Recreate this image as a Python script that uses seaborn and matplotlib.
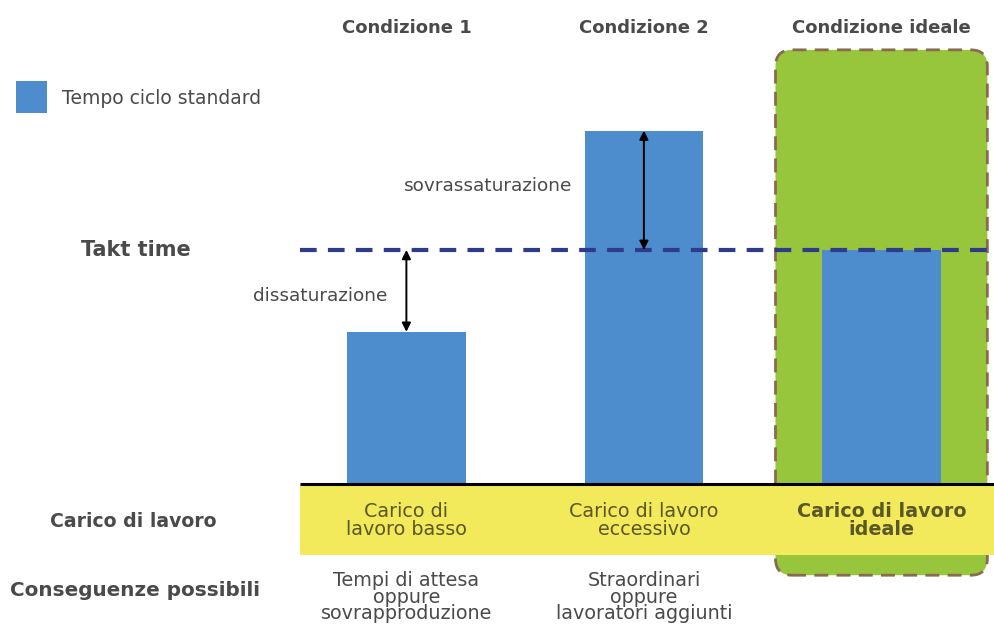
import matplotlib
matplotlib.use("Agg")
import matplotlib.pyplot as plt
import seaborn as sns
import pandas as pd
from matplotlib.patches import Rectangle, FancyBboxPatch
from matplotlib.transforms import blended_transform_factory

# --- data -------------------------------------------------------------
conditions = ["Condizione 1", "Condizione 2", "Condizione ideale"]
cycle_time = [65, 151, 100]          # tempo ciclo standard per condizione
takt_time = 100                      # takt time di riferimento
workload = ["Carico di\nlavoro basso", "Carico di lavoro\neccessivo", "Carico di lavoro\nideale"]
consequences = ["Tempi di attesa\noppure\nsovrapproduzione",
                "Straordinari\noppure\nlavoratori aggiunti", ""]
gap_labels = ["dissaturazione", "sovrassaturazione"]
legend_label = "Tempo ciclo standard"

# --- style ------------------------------------------------------------
BLUE = "#4D8DCD"
GREEN = "#97C53C"
YELLOW = "#F3EA5B"
NAVY = "#2E3A8A"
BROWN = "#8A6A4E"
GREY = "#4A4A4A"
OLIVE = "#5A5826"

sns.set_theme(style="white")
plt.rcParams["font.family"] = ["DejaVu Sans"]

fig = plt.figure(figsize=(9.94, 6.26), dpi=100)
ax = fig.add_axes([0, 0, 1, 1])

x_left, x_right = -1.711, 2.474
y_bottom, y_top = -60.7, 206.8
band_left = -0.45
band_bottom = -30.5

# ideal-condition highlight box (rounded, dashed border)
ideal = FancyBboxPatch((2 - 0.446, -39.0), 0.892, 224.5,
                       boxstyle="round,pad=0,rounding_size=0.07",
                       mutation_aspect=101.5,
                       facecolor=GREEN, edgecolor=BROWN, lw=2.0,
                       linestyle=(0, (5, 3)), zorder=0)
ax.add_patch(ideal)

# bars
df = pd.DataFrame({"condizione": conditions, "tempo": cycle_time})
sns.barplot(data=df, x="condizione", y="tempo", color=BLUE, width=0.5,
            saturation=1, linewidth=0, edgecolor="none", ax=ax, zorder=2)

# workload band
ax.add_patch(Rectangle((band_left, band_bottom), x_right - band_left, -band_bottom,
                       facecolor=YELLOW, edgecolor="none", zorder=3))
ax.hlines(0, band_left, x_right, color="black", lw=2.2, zorder=4)

# takt time line (runs off the right edge)
ax.hlines(takt_time, band_left, x_right + 0.1, color=NAVY, lw=3,
          linestyles=(0, (4, 2.7)), zorder=5)

# gap arrows between bar tops and takt time
for i in (0, 1):
    ax.annotate("", xy=(i, takt_time), xytext=(i, cycle_time[i]),
                arrowprops=dict(arrowstyle="<|-|>", color="black", lw=1.4,
                                shrinkA=0, shrinkB=0, mutation_scale=13),
                zorder=6)
ax.text(-0.078, 80.5, gap_labels[0], ha="right",
        va="center", fontsize=13.3, color=GREY)
ax.text(0.70, 127.5, gap_labels[1], ha="right", va="center",
        fontsize=13.3, color=GREY)

# column headers
top = blended_transform_factory(ax.transData, ax.transAxes)
for i, c in enumerate(conditions):
    ax.text(i, 0.955, c, transform=top, ha="center", va="center",
            fontsize=13, fontweight="bold", color=GREY)

# workload and consequences text
for i, w in enumerate(workload):
    ax.text(i, band_bottom / 2 - 0.5, w, ha="center", va="center", fontsize=13.8,
            color=OLIVE, fontweight="bold" if i == 2 else "normal",
            linespacing=0.95, zorder=7)
    if consequences[i]:
        ax.text(i, -37.3, consequences[i], ha="center", va="top",
                fontsize=13.8, color=GREY, linespacing=0.82)

# row labels
ax.text(0.081, 0.6, "Takt time", transform=ax.transAxes, ha="left",
        va="center", fontsize=15, fontweight="bold", color=GREY)
ax.text(0.05, 0.167, "Carico di lavoro", transform=ax.transAxes, ha="left",
        va="center", fontsize=13.6, fontweight="semibold", color=GREY)
ax.text(0.01, 0.056, "Conseguenze possibili", transform=ax.transAxes,
        ha="left", va="center", fontsize=14.4, fontweight="semibold", color=GREY)

# legend
ax.add_patch(Rectangle((0.016, 0.82), 0.031, 0.05, transform=ax.transAxes,
                       facecolor=BLUE, edgecolor="none"))
ax.text(0.062, 0.842, legend_label, transform=ax.transAxes, ha="left",
        va="center", fontsize=13.5, color=GREY)

ax.set_xlim(x_left, x_right)
ax.set_ylim(y_bottom, y_top)
ax.set_axis_off()

fig.savefig("out.png", dpi=100)
